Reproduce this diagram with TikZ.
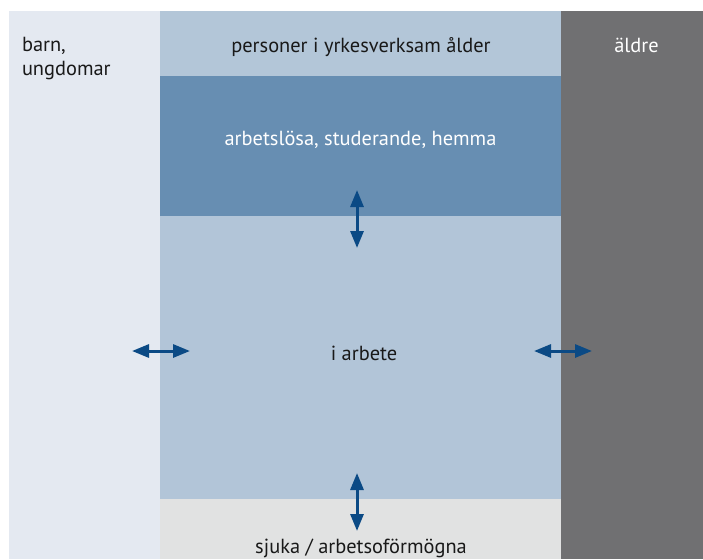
\documentclass[tikz,border=0pt]{standalone}
\usepackage{fontspec}
\setmainfont{PT Sans}
\usetikzlibrary{arrows.meta}
\definecolor{barnfarg}{HTML}{E4E9F1}
\definecolor{alderfarg}{HTML}{B3C6D8}
\definecolor{hemmafarg}{HTML}{678EB2}
\definecolor{arbetefarg}{HTML}{B2C5D8}
\definecolor{sjukfarg}{HTML}{E1E2E2}
\definecolor{aldrefarg}{HTML}{707072}
\definecolor{pilfarg}{HTML}{0B4A85}

\begin{document}
\begin{tikzpicture}[x=1pt, y=-1pt,
  every node/.style={inner sep=0pt, outer sep=0pt},
  area/.style={minimum width=#1, draw=none},
  label/.style={anchor=base, font=\fontsize{20.4}{24}\selectfont, text=black!90},
  flow/.style={{Triangle[length=17pt,width=13pt]}-{Triangle[length=17pt,width=13pt]}, line width=3pt, pilfarg}]
\useasboundingbox (0,0) rectangle (703,559);

\node[area=151, minimum height=548, fill=barnfarg] (barn) at (84.5,285) {};
\node[area=401, minimum height=65, fill=alderfarg] (alder) at (360.5,43.5) {};
\node[area=401, minimum height=140, fill=hemmafarg] (hemma) at (360.5,146) {};
\node[area=401, minimum height=283, fill=arbetefarg] (arbete) at (360.5,357.5) {};
\node[area=401, minimum height=60, fill=sjukfarg] (sjuk) at (360.5,529) {};
\node[area=142, minimum height=548, fill=aldrefarg] (aldre) at (632,285) {};

\node[label, anchor=base west, align=left] (barntext) at (22,76) {barn,\\ungdomar};
\node[label] (aldertext) at (361,53) {personer i yrkesverksam ålder};
\node[label, text=white] (aldretext) at (636.5,53) {äldre};
\node[label, text=white] (hemmatext) at (360.5,145) {arbetslösa, studerande, hemma};
\node[label] (arbetetext) at (364,360) {i arbete};
\node[label] (sjuktext) at (361,553) {sjuka / arbetsoförmögna};

\coordinate (p1) at (357,190);
\coordinate (p2) at (357,248);
\coordinate (p3) at (357,473);
\coordinate (p4) at (357,531);
\coordinate (p5) at (132,351);
\coordinate (p6) at (190,351);
\coordinate (p7) at (534,351);
\coordinate (p8) at (592,351);
\draw[flow] (p1) -- (p2);
\draw[flow] (p3) -- (p4);
\draw[flow] (p5) -- (p6);
\draw[flow] (p7) -- (p8);
\end{tikzpicture}
\end{document}
